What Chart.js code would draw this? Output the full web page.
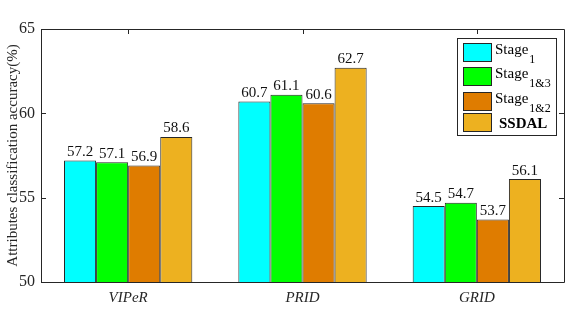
<!DOCTYPE html>
<html>
<head>
<meta charset="utf-8">
<script src="https://cdn.jsdelivr.net/npm/chart.js@4/dist/chart.umd.min.js"></script>
<style>
html,body{margin:0;padding:0;background:#fff;}
#wrap{width:581px;height:322px;position:relative;}
</style>
</head>
<body>
<div id="wrap"><canvas id="c" width="581" height="322"></canvas></div>
<script>
const categories = ["VIPeR", "PRID", "GRID"];
const stage1 = [57.2, 60.7, 54.5];
const stage13 = [57.1, 61.1, 54.7];
const stage12 = [56.9, 60.6, 53.7];
const ssdal = [58.6, 62.7, 56.1];
const seriesNames = [["Stage", "1"], ["Stage", "1&3"], ["Stage", "1&2"], ["SSDAL", ""]];
const yTicks = [50, 55, 60, 65];
const colors = ["#00FFFF", "#00FF00", "#DF7C00", "#EDB120"];
const serif = "'Liberation Serif', 'Times New Roman', serif";

const boxPlugin = {
  id: 'boxPlugin',
  afterDatasetsDraw(chart) {
    const ctx = chart.ctx, a = chart.chartArea;
    const x = chart.scales.x, y = chart.scales.y;
    ctx.save();
    // data labels
    ctx.fillStyle = '#111';
    ctx.font = '15px ' + serif;
    ctx.textAlign = 'center';
    ctx.textBaseline = 'bottom';
    chart.data.datasets.forEach((ds, i) => {
      const meta = chart.getDatasetMeta(i);
      meta.data.forEach((bar, j) => {
        ctx.fillText(ds.data[j].toFixed(1), bar.x, bar.y - 1);
      });
    });
    // frame
    ctx.strokeStyle = '#262626';
    ctx.lineWidth = 1;
    ctx.beginPath();
    ctx.rect(Math.round(a.left) + 0.5, Math.round(a.top) + 0.5, Math.round(a.right - a.left), Math.round(a.bottom - a.top));
    ctx.stroke();
    // inward ticks
    ctx.beginPath();
    yTicks.forEach(v => {
      const py = Math.round(y.getPixelForValue(v)) + 0.5;
      ctx.moveTo(a.left, py); ctx.lineTo(a.left + 5, py);
      ctx.moveTo(a.right, py); ctx.lineTo(a.right - 5, py);
    });
    categories.forEach((c, i) => {
      const px = Math.round(x.getPixelForValue(i)) + 0.5;
      ctx.moveTo(px, a.top); ctx.lineTo(px, a.top + 5);
    });
    ctx.stroke();
    // legend
    const lx = 457, ly = 38, lw = 99, lh = 97;
    ctx.fillStyle = '#fff';
    ctx.fillRect(lx, ly, lw, lh);
    ctx.strokeStyle = '#262626';
    ctx.strokeRect(lx + 0.5, ly + 0.5, lw, lh);
    const rowTops = [43, 67, 92, 113];
    seriesNames.forEach((nm, i) => {
      const t = rowTops[i];
      ctx.fillStyle = colors[i];
      ctx.fillRect(463, t, 29, 19);
      ctx.strokeStyle = '#262626';
      ctx.strokeRect(463.5, t + 0.5, 28, 18);
      ctx.fillStyle = '#000';
      ctx.textAlign = 'left';
      ctx.textBaseline = 'alphabetic';
      if (nm[1]) {
        ctx.font = '15px ' + serif;
        ctx.fillText(nm[0], 495, t + 11);
        const w = ctx.measureText(nm[0]).width;
        ctx.font = '12px ' + serif;
        ctx.fillText(nm[1], 495 + w + 1, t + 20);
      } else {
        ctx.font = 'bold 15px ' + serif;
        ctx.fillText(nm[0], 499, t + 15);
      }
    });
    ctx.restore();
  }
};

new Chart(document.getElementById('c'), {
  type: 'bar',
  data: {
    labels: categories,
    datasets: [
      { label: 'Stage1', data: stage1, backgroundColor: colors[0] },
      { label: 'Stage1&3', data: stage13, backgroundColor: colors[1] },
      { label: 'Stage1&2', data: stage12, backgroundColor: colors[2] },
      { label: 'SSDAL', data: ssdal, backgroundColor: colors[3] }
    ].map(d => Object.assign(d, { borderColor: '#262626', borderWidth: 1, borderSkipped: false, categoryPercentage: 0.736, barPercentage: 1 }))
  },
  options: {
    responsive: false,
    animation: false,
    layout: { padding: { left: 0, top: 29, right: 17, bottom: 0 } },
    plugins: { legend: { display: false }, tooltip: { enabled: false } },
    scales: {
      x: {
        offset: true,
        grid: { display: false, drawTicks: false },
        border: { display: false },
        ticks: { color: '#262626', font: { family: serif, size: 15, style: 'italic' }, padding: 7 },
        afterFit(s) { s.height = 40; }
      },
      y: {
        min: 50, max: 65,
        afterBuildTicks(s) { s.ticks = yTicks.map(v => ({ value: v })); },
        grid: { display: false, drawTicks: false },
        border: { display: false },
        ticks: { color: '#262626', font: { family: serif, size: 16 }, padding: 6 },
        title: { display: true, text: 'Attributes classification accuracy(%)', color: '#262626', font: { family: serif, size: 15 }, padding: { top: 4, bottom: 0 } },
        afterFit(s) { s.width = 41; }
      }
    }
  },
  plugins: [boxPlugin]
});
</script>
</body>
</html>
